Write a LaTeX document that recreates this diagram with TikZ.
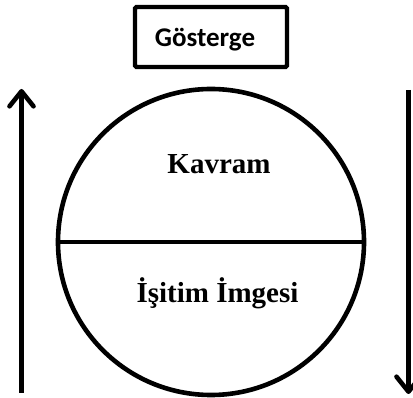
\documentclass[tikz,border=0pt]{standalone}
\usepackage{fontspec}
\setmainfont{Liberation Serif}
\newfontfamily\labelsans{Carlito}
\usetikzlibrary{arrows.meta}
\begin{document}
\begin{tikzpicture}[x=1pt,y=-1pt,
  thickline/.style={line width=4.6pt},
  flowarrow/.style={line width=4.6pt,-{Straight Barb[length=15pt,width=24pt,line width=4.6pt,round]}},
  termbox/.style={draw,line width=4.4pt,rounded corners=1.5pt,minimum width=152pt,minimum height=60pt,inner sep=0pt},
  boxtext/.style={font=\labelsans\bfseries\fontsize{27}{31}\selectfont,inner sep=0pt,anchor=base},
  parttext/.style={font=\bfseries\fontsize{29}{33}\selectfont,inner sep=0pt,anchor=base}]
\useasboundingbox (0,0) rectangle (413,398);
% sign box
\node[termbox] (sign) at (211,37) {};
\node[boxtext] (signlabel) at (205,47) {Gösterge};
% signified / signifier circle
\node[draw,thickline,circle,minimum size=306pt,inner sep=0pt] (whole) at (211,242) {};
\draw[thickline] (whole.west) -- (whole.east);
\node[parttext] (concept) at (219,174) {Kavram};
\node[parttext] (image) at (217.5,303) {İşitim İmgesi};
% direction arrows
\coordinate (lbot) at (21.5,393);
\coordinate (ltop) at (21.5,89);
\coordinate (rtop) at (408.5,90);
\coordinate (rbot) at (408.5,394);
\draw[flowarrow] (lbot) -- (ltop);
\draw[flowarrow] (rtop) -- (rbot);
\end{tikzpicture}
\end{document}
